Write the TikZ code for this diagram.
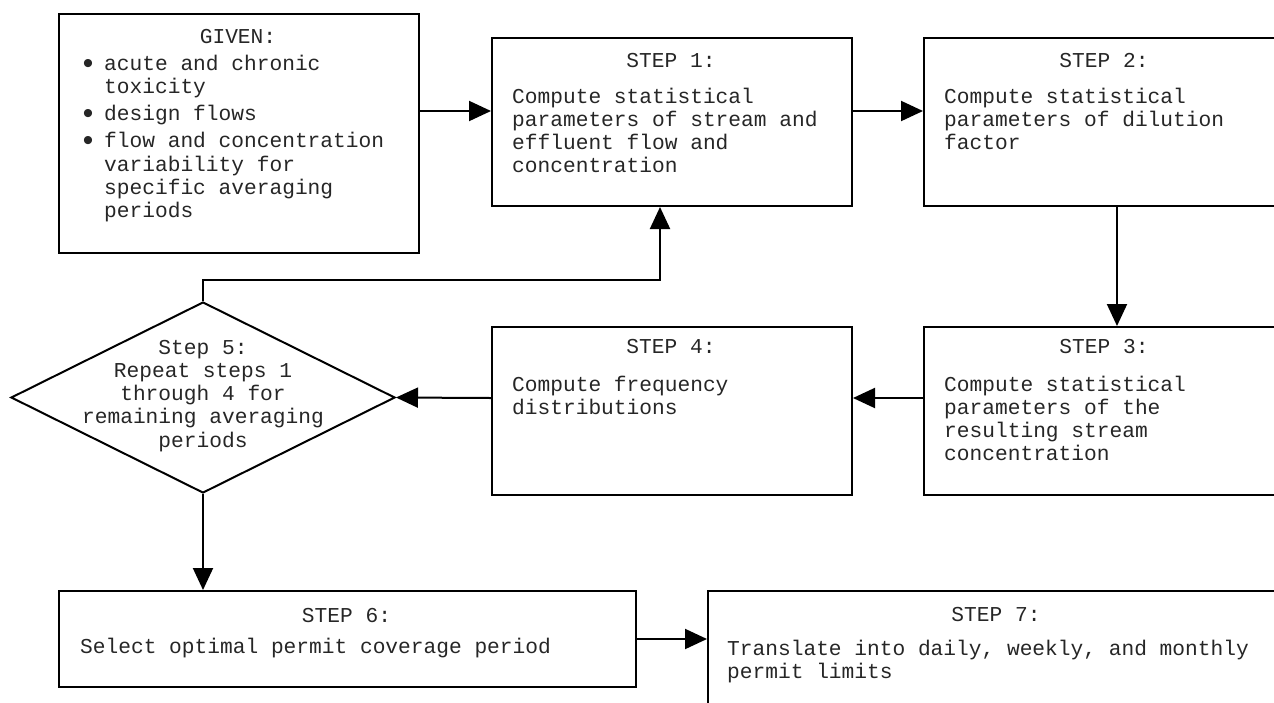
\documentclass[tikz,border=0pt]{standalone}
\usepackage{fontspec}
\setmainfont{Liberation Mono}
\usetikzlibrary{arrows.meta,shapes.geometric}
\newcommand{\bigbul}{\raisebox{-3pt}{\fontsize{30}{30}\selectfont\textbullet}}
\begin{document}
\begin{tikzpicture}[x=1pt,y=-1pt,
  box/.style={draw, line width=2pt, rectangle, inner sep=0pt, anchor=north west},
  dia/.style={draw, line width=2pt, diamond, inner sep=0pt, aspect=2},
  txt/.style={inner sep=0pt, text=black!85, font=\fontsize{21.2}{23.3}\selectfont},
  arr/.style={-{Triangle[length=22pt,width=20pt]}, line width=2pt}]
\useasboundingbox (0,0) rectangle (1274,702);
\clip (0,0) rectangle (1274,702);

% boxes
\node[box, minimum width=360pt, minimum height=239pt] (given) at (58,13) {};
\node[box, minimum width=360pt, minimum height=168pt] (s1) at (491,37) {};
\node[box, minimum width=362pt, minimum height=168pt] (s2) at (923,37) {};
\node[box, minimum width=362pt, minimum height=168pt] (s3) at (923,326) {};
\node[box, minimum width=360pt, minimum height=168pt] (s4) at (491,326) {};
\node[dia, minimum width=384pt, minimum height=191pt] (d5) at (203,397.5) {};
\node[box, minimum width=577pt, minimum height=96pt] (s6) at (58,590) {};
\node[box, minimum width=578pt, minimum height=140pt] (s7) at (707,590) {};

% texts
\node[txt, anchor=base] (givenh) at (238,43) {GIVEN:};
\node[txt, anchor=base west] (givenb) at (79,70) {\begin{tabular}[t]{@{}p{25pt}@{}l@{}}
\bigbul & acute and chronic\\
 & toxicity\\[4pt]
\bigbul & design flows\\[4pt]
\bigbul & flow and concentration\\
 & variability for\\
 & specific averaging\\
 & periods
\end{tabular}};

\node[txt, anchor=base] (s1h) at (671,67) {STEP 1:};
\node[txt, anchor=base west] (s1b) at (512,103) {\begin{tabular}[t]{@{}l@{}}
Compute statistical\\
parameters of stream and\\
effluent flow and\\
concentration
\end{tabular}};

\node[txt, anchor=base] (s2h) at (1104,67) {STEP 2:};
\node[txt, anchor=base west] (s2b) at (944,103) {\begin{tabular}[t]{@{}l@{}}
Compute statistical\\
parameters of dilution\\
factor
\end{tabular}};

\node[txt, anchor=base] (s3h) at (1104,353) {STEP 3:};
\node[txt, anchor=base west] (s3b) at (944,391) {\begin{tabular}[t]{@{}l@{}}
Compute statistical\\
parameters of the\\
resulting stream\\
concentration
\end{tabular}};

\node[txt, anchor=base] (s4h) at (671,353) {STEP 4:};
\node[txt, anchor=base west] (s4b) at (512,391) {\begin{tabular}[t]{@{}l@{}}
Compute frequency\\
distributions
\end{tabular}};

\node[txt, anchor=base] (d5t) at (203,354) {\begin{tabular}[t]{@{}c@{}}
Step 5:\\
Repeat steps 1\\
through 4 for\\
remaining averaging\\
periods
\end{tabular}};

\node[txt, anchor=base] (s6h) at (346.5,622) {STEP 6:};
\node[txt, anchor=base west] (s6b) at (80,653) {Select optimal permit coverage period};

\node[txt, anchor=base] (s7h) at (996,621) {STEP 7:};
\node[txt, anchor=base west] (s7b) at (727,655) {\begin{tabular}[t]{@{}l@{}}
Translate into daily, weekly, and monthly\\
permit limits
\end{tabular}};

% connectors
\draw[arr] ([yshift=22.5pt]given.east) -- ([yshift=22.5pt]given.east -| s1.west);
\draw[arr] ([yshift=11pt]s1.east) -- ([yshift=11pt]s1.east -| s2.west);
\draw[arr] ([xshift=12pt]s2.south) -- ([xshift=12pt]s2.south |- s3.north);
\draw[arr] ([yshift=13pt]s3.west) -- ([yshift=13pt]s3.west -| s4.east);
\draw[arr] ([yshift=13pt]s4.west) -- (d5.east);
\draw[arr] (d5.north) |- ([xshift=-12pt,yshift=-73pt]s1.south) -- ([xshift=-12pt]s1.south);
\draw[arr] (d5.south) -- (d5.south |- s6.north);
\draw[arr] (s6.east) -- (s6.east -| s7.west);
\end{tikzpicture}
\end{document}
